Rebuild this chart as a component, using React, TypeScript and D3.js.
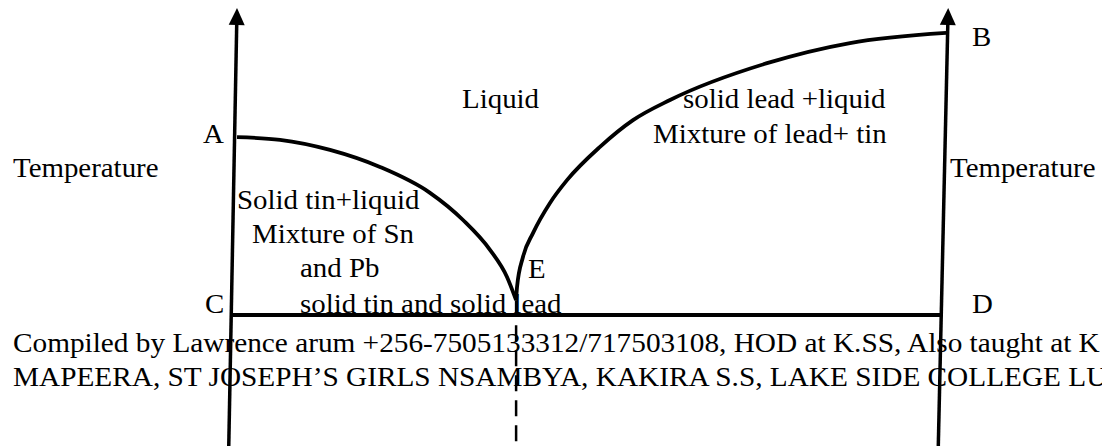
import React from 'react';
import * as d3 from 'd3';

const W = 1102;
const H = 446;

// x = composition (% lead, tin at the left axis), t = temperature (arbitrary units)
const liquidusTin = [
  { x: 0.57, t: 70.5 },
  { x: 6.66, t: 69.9 },
  { x: 13.74, t: 67.6 },
  { x: 20.82, t: 63.7 },
  { x: 27.9, t: 57.8 },
  { x: 32.58, t: 51.6 },
  { x: 36.4, t: 44.8 },
  { x: 38.81, t: 38.6 },
  { x: 40.1, t: 33.3 },
];

const liquidusLead = [
  { x: 40.1, t: 33.3 },
  { x: 40.23, t: 36.3 },
  { x: 41.08, t: 43.2 },
  { x: 42.49, t: 48.6 },
  { x: 44.9, t: 55.5 },
  { x: 47.31, t: 60.7 },
  { x: 51.98, t: 68.3 },
  { x: 56.66, t: 74.4 },
  { x: 61.9, t: 79.0 },
  { x: 75.64, t: 87.4 },
  { x: 87.39, t: 92.0 },
  { x: 101.0, t: 94.3 },
];

const eutecticLine = [
  { x: -0.1, t: 29.9 },
  { x: 100.3, t: 29.9 },
];
const eutecticPoint = { x: 40.1, t: 33.3 };

const leftAxis = [
  { x: -0.6, t: 0 },
  { x: 0.57, t: 100 },
];
const rightAxis = [
  { x: 99.9, t: 0 },
  { x: 101.3, t: 100 },
];

const labels = [
  { text: 'A', x: -4.25, t: 69.2 },
  { text: 'B', x: 104.67, t: 91.3 },
  { text: 'C', x: -3.97, t: 30.4 },
  { text: 'D', x: 104.67, t: 30.4 },
  { text: 'E', x: 41.78, t: 38.4 },
  { text: 'Liquid', x: 32.44, t: 77.2 },
  { text: 'solid lead +liquid', x: 63.74, t: 77.2 },
  { text: 'Mixture of lead+ tin', x: 59.49, t: 69.2 },
  { text: 'Temperature', x: -31.16, t: 61.4 },
  { text: 'Temperature', x: 101.56, t: 61.4 },
  { text: 'Solid tin+liquid', x: 0.57, t: 54.1 },
  { text: 'Mixture of Sn', x: 2.69, t: 46.35 },
  { text: 'and Pb', x: 9.49, t: 38.6 },
  { text: 'solid tin and solid lead', x: 9.49, t: 30.4 },
];

const footerLines = [
  'Compiled by Lawrence arum +256-7505133312/717503108, HOD at K.SS, Also taught at K',
  'MAPEERA, ST JOSEPH\u2019S GIRLS NSAMBYA, KAKIRA S.S, LAKE SIDE COLLEGE LU',
];

const FONT = 'Liberation Serif, Times New Roman, Times, serif';

export default function App() {
  const x = d3.scaleLinear().domain([0, 100]).range([233, 939]);
  const y = d3.scaleLinear().domain([0, 100]).range([446, 8]);

  const curve = d3
    .line<{ x: number; t: number }>()
    .x((d) => x(d.x))
    .y((d) => y(d.t))
    .curve(d3.curveMonotoneX);

  const straight = d3
    .line<{ x: number; t: number }>()
    .x((d) => x(d.x))
    .y((d) => y(d.t));

  const arrowHead = (axis: { x: number; t: number }[]) => {
    const x0 = x(axis[0].x), y0 = y(axis[0].t);
    const x1 = x(axis[1].x), y1 = y(axis[1].t);
    const len = Math.hypot(x1 - x0, y1 - y0);
    const ux = (x1 - x0) / len, uy = (y1 - y0) / len;
    const px = -uy, py = ux;
    const p = d3.path();
    p.moveTo(x1, y1);
    p.lineTo(x1 - ux * 17 + px * 8, y1 - uy * 17 + py * 8);
    p.lineTo(x1 - ux * 17 - px * 8, y1 - uy * 17 - py * 8);
    p.closePath();
    return p.toString();
  };

  const axisLine = (axis: { x: number; t: number }[]) => {
    // stop the shaft just below the arrow tip
    const x0 = x(axis[0].x), y0 = y(axis[0].t);
    const x1 = x(axis[1].x), y1 = y(axis[1].t);
    const len = Math.hypot(x1 - x0, y1 - y0);
    const k = (len - 10) / len;
    return `M${x0},${y0}L${x0 + (x1 - x0) * k},${y0 + (y1 - y0) * k}`;
  };

  const textStyle = { fontFamily: FONT, fontSize: '27px' };

  return (
    <svg
      width={W}
      height={H}
      style={{ position: 'absolute', left: 0, top: 0, background: '#fff' }}
    >
      <rect width={W} height={H} fill="#fff" />

      {/* axes */}
      {[leftAxis, rightAxis].map((a, i) => (
        <g key={i}>
          <path d={axisLine(a)} stroke="#000" strokeWidth={3.5} fill="none" />
          <path d={arrowHead(a)} fill="#000" />
        </g>
      ))}

      {/* eutectic line C-D */}
      <path d={straight(eutecticLine) || ''} stroke="#000" strokeWidth={4} fill="none" />

      {/* vertical dashed line through E */}
      <line
        x1={x(eutecticPoint.x)}
        x2={x(eutecticPoint.x)}
        y1={y(eutecticPoint.t)}
        y2={H}
        stroke="#000"
        strokeWidth={2.5}
        strokeDasharray="16 9"
      />

      {/* liquidus curves */}
      <path d={curve(liquidusTin) || ''} stroke="#000" strokeWidth={3.8} fill="none" />
      <path d={curve(liquidusLead) || ''} stroke="#000" strokeWidth={3.8} fill="none" />

      {labels.map((l, i) => (
        <text
          key={i}
          transform={`translate(${x(l.x)},${y(l.t)}) scale(1.07,1)`}
          style={textStyle}
          fill="#000"
        >
          {l.text}
        </text>
      ))}

      {footerLines.map((s, i) => (
        <text
          key={'f' + i}
          transform={`translate(13,${352 + i * 34}) scale(1.085,1)`}
          style={textStyle}
          fill="#000"
        >
          {s}
        </text>
      ))}
    </svg>
  );
}
